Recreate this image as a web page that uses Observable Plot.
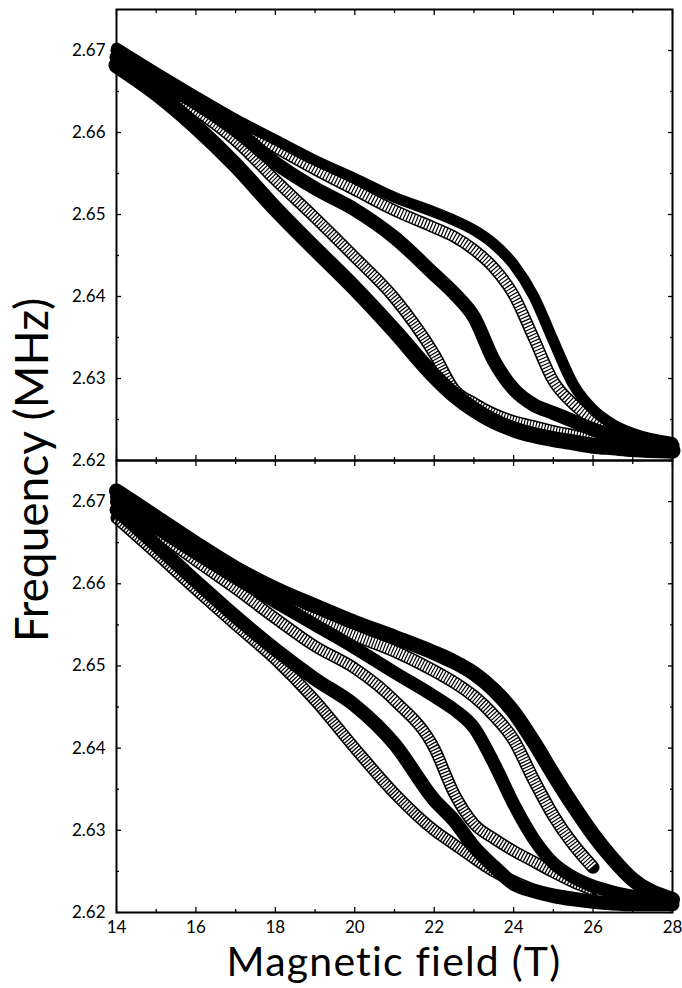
<!DOCTYPE html>
<html>
<head>
<meta charset="utf-8">
<script src="https://cdn.jsdelivr.net/npm/d3@7"></script>
<script src="https://cdn.jsdelivr.net/npm/@observablehq/plot@0.6"></script>
<style>
  body { margin: 0; background: #fff; }
  #wrap { position: relative; width: 682px; height: 988px; overflow: hidden; font-family: Lato, "Open Sans", sans-serif; }
  #wrap svg.panel { position: absolute; left: 0; overflow: visible; }
</style>
</head>
<body>
<div id="wrap"></div>
<script>
const F = [14, 15, 16, 17, 18, 19, 20, 21, 22, 22.5, 23, 23.5, 24, 24.5, 25, 25.5, 26, 26.5, 27, 28];

// Top panel (frequency, MHz)
const topUpperFilled  = [2.6703, 2.6673, 2.6644, 2.6616, 2.6591, 2.6566, 2.6544, 2.6521, 2.6503, 2.6493, 2.6481, 2.6464, 2.6439, 2.6401, 2.6346, 2.6293, 2.6262, 2.6244, 2.6233, 2.6222];
const topSquares      = [2.6700, 2.6670, 2.6640, 2.6610, 2.6582, 2.6555, 2.6530, 2.6505, 2.6484, 2.6473, 2.6457, 2.6435, 2.6402, 2.6350, 2.6297, 2.6269, 2.6250, 2.6237, 2.6228, 2.6220];
const topMiddleFilled = [2.6692, 2.6663, 2.6636, 2.6603, 2.6563, 2.6532, 2.6506, 2.6472, 2.6427, 2.6404, 2.6375, 2.6322, 2.6287, 2.6268, 2.6258, 2.6248, 2.6238, 2.6230, 2.6225, 2.6218];
const topCircles      = [2.6685, 2.6657, 2.6627, 2.6590, 2.6542, 2.6496, 2.6448, 2.6398, 2.6330, 2.6287, 2.6270, 2.6257, 2.6248, 2.6242, 2.6236, 2.6231, 2.6226, 2.6223, 2.6220, 2.6216];
const topLowerFilled  = [2.6682, 2.6648, 2.6607, 2.6560, 2.6507, 2.6458, 2.6410, 2.6358, 2.6303, 2.6280, 2.6262, 2.6248, 2.6238, 2.6231, 2.6226, 2.6222, 2.6218, 2.6216, 2.6214, 2.6212];

// Bottom panel (frequency, MHz); open-marker series stop at 26 T
const botOuterFilled  = [2.6713, 2.6681, 2.6649, 2.6619, 2.6594, 2.6573, 2.6553, 2.6535, 2.6516, 2.6505, 2.6491, 2.6471, 2.6444, 2.6408, 2.6368, 2.6330, 2.6295, 2.6265, 2.6240, 2.6216];
const botCircles      = [2.6706, 2.6673, 2.6641, 2.6609, 2.6580, 2.6557, 2.6537, 2.6518, 2.6494, 2.6480, 2.6463, 2.6440, 2.6410, 2.6362, 2.6318, 2.6283, 2.6255];
const botMiddleFilled = [2.6700, 2.6668, 2.6637, 2.6607, 2.6578, 2.6550, 2.6522, 2.6492, 2.6463, 2.6447, 2.6425, 2.6382, 2.6332, 2.6290, 2.6260, 2.6243, 2.6232, 2.6225, 2.6220, 2.6214];
const botSquares      = [2.6698, 2.6663, 2.6628, 2.6594, 2.6558, 2.6524, 2.6497, 2.6458, 2.6400, 2.6345, 2.6308, 2.6290, 2.6275, 2.6262, 2.6249, 2.6237, 2.6227];
const botLowerFilled  = [2.6690, 2.6647, 2.6603, 2.6560, 2.6520, 2.6484, 2.6452, 2.6405, 2.6337, 2.6312, 2.6280, 2.6256, 2.6235, 2.6226, 2.6220, 2.6216, 2.6213, 2.6211, 2.6210, 2.6210];
const botTriangles    = [2.6680, 2.6637, 2.6593, 2.6550, 2.6508, 2.6458, 2.6400, 2.6345, 2.6300, 2.6283, 2.6266, 2.6250, 2.6238, 2.6228, 2.6222, 2.6218, 2.6214];

// Tick values and labels
const xMajor = [14, 16, 18, 20, 22, 24, 26, 28];
const xMinor = [15, 17, 19, 21, 23, 25, 27];
const yMajor = [2.62, 2.63, 2.64, 2.65, 2.66, 2.67];
const yMinor = [2.625, 2.635, 2.645, 2.655, 2.665];
const xTitle = "Magnetic field (T)";
const yTitle = "Frequency (MHz)";

const rows = vals => vals.map((v, i) => ({field: F[i], freq: v}));
const base = {x: "field", y: "freq", curve: "monotone-x"};

function filled(vals, w = 14) {
  return Plot.line(rows(vals), {...base, stroke: "black", strokeWidth: w, strokeLinecap: "round", strokeLinejoin: "round"});
}
function open(vals, w, dash) {
  return [
    Plot.line(rows(vals), {...base, stroke: "black", strokeWidth: w, strokeLinecap: "round", strokeLinejoin: "round"}),
    Plot.line(rows(vals), {...base, stroke: "white", strokeWidth: w - 3.2, strokeDasharray: dash, strokeLinecap: "butt", strokeLinejoin: "round"})
  ];
}
function ticks() {
  const s = {label: null, fill: "none", strokeWidth: 1.3};
  return [
    Plot.axisX({...s, anchor: "bottom", ticks: xMajor, tickSize: 5, dy: -5}),
    Plot.axisX({...s, anchor: "bottom", ticks: xMinor, tickSize: 3, dy: -3}),
    Plot.axisX({...s, anchor: "top", ticks: xMajor, tickSize: 5, dy: 5}),
    Plot.axisX({...s, anchor: "top", ticks: xMinor, tickSize: 3, dy: 3}),
    Plot.axisY({...s, anchor: "left", ticks: yMajor, tickSize: 5, dx: 5}),
    Plot.axisY({...s, anchor: "left", ticks: yMinor, tickSize: 3, dx: 3}),
    Plot.axisY({...s, anchor: "right", ticks: yMajor, tickSize: 5, dx: -5}),
    Plot.axisY({...s, anchor: "right", ticks: yMinor, tickSize: 3, dx: -3})
  ];
}

function panel({height, marginTop, marginBottom, showX, marks}) {
  return Plot.plot({
    width: 682, height, marginLeft: 116, marginRight: 10, marginTop, marginBottom,
    x: {domain: [14, 28]},
    y: {domain: [2.62, 2.675]},
    style: {fontFamily: "Lato, 'Open Sans', sans-serif", fontSize: "17px", background: "transparent", color: "black", overflow: "visible"},
    marks: [
      ...marks,
      ...ticks(),
      Plot.axisY({anchor: "left", ticks: yMajor, tickSize: 0, tickPadding: 11, tickFormat: d3.format(".2f"), label: null, fontSize: 17}),
      showX ? Plot.axisX({anchor: "bottom", ticks: xMajor, tickSize: 0, tickPadding: 8, tickFormat: d => String(d), label: null, fontSize: 17}) : null,
      Plot.frame({stroke: "black", strokeWidth: 2})
    ]
  });
}

const wrap = document.getElementById("wrap");

const topPanel = panel({
  height: 461, marginTop: 9, marginBottom: 1, showX: false,
  marks: [
    ...open(topSquares, 12, "2,1.2"),
    ...open(topCircles, 12, "1.8,1.2"),
    filled(topUpperFilled, 11),
    filled(topMiddleFilled, 14),
    filled(topLowerFilled, 16)
  ]
});
topPanel.classList.add("panel");
topPanel.style.top = "0px";
wrap.appendChild(topPanel);

const bottomPanel = panel({
  height: 480, marginTop: 0, marginBottom: 28, showX: true,
  marks: [
    ...open(botTriangles, 12, "1.6,1.3"),
    ...open(botSquares, 12, "1.8,1.3"),
    ...open(botCircles, 13, "1.8,1.2"),
    filled(botLowerFilled, 14),
    filled(botMiddleFilled, 13),
    filled(botOuterFilled, 15)
  ]
});
bottomPanel.classList.add("panel");
bottomPanel.style.top = "460px";
wrap.appendChild(bottomPanel);

// Axis titles
const ns = "http://www.w3.org/2000/svg";
const over = document.createElementNS(ns, "svg");
over.setAttribute("width", 682); over.setAttribute("height", 988);
over.style.position = "absolute"; over.style.left = "0"; over.style.top = "0"; over.style.pointerEvents = "none";
const tY = document.createElementNS(ns, "text");
tY.setAttribute("transform", "translate(48,470) rotate(-90)");
tY.setAttribute("text-anchor", "middle");
tY.setAttribute("font-size", "46"); tY.setAttribute("font-family", "Lato, 'Open Sans', sans-serif");
tY.textContent = yTitle;
const tX = document.createElementNS(ns, "text");
tX.setAttribute("x", 394); tX.setAttribute("y", 976);
tX.setAttribute("text-anchor", "middle");
tX.setAttribute("font-size", "41"); tX.setAttribute("letter-spacing", "1.2");
tX.setAttribute("font-family", "Lato, 'Open Sans', sans-serif");
tX.textContent = xTitle;
over.appendChild(tY); over.appendChild(tX);
wrap.appendChild(over);
</script>
</body>
</html>
